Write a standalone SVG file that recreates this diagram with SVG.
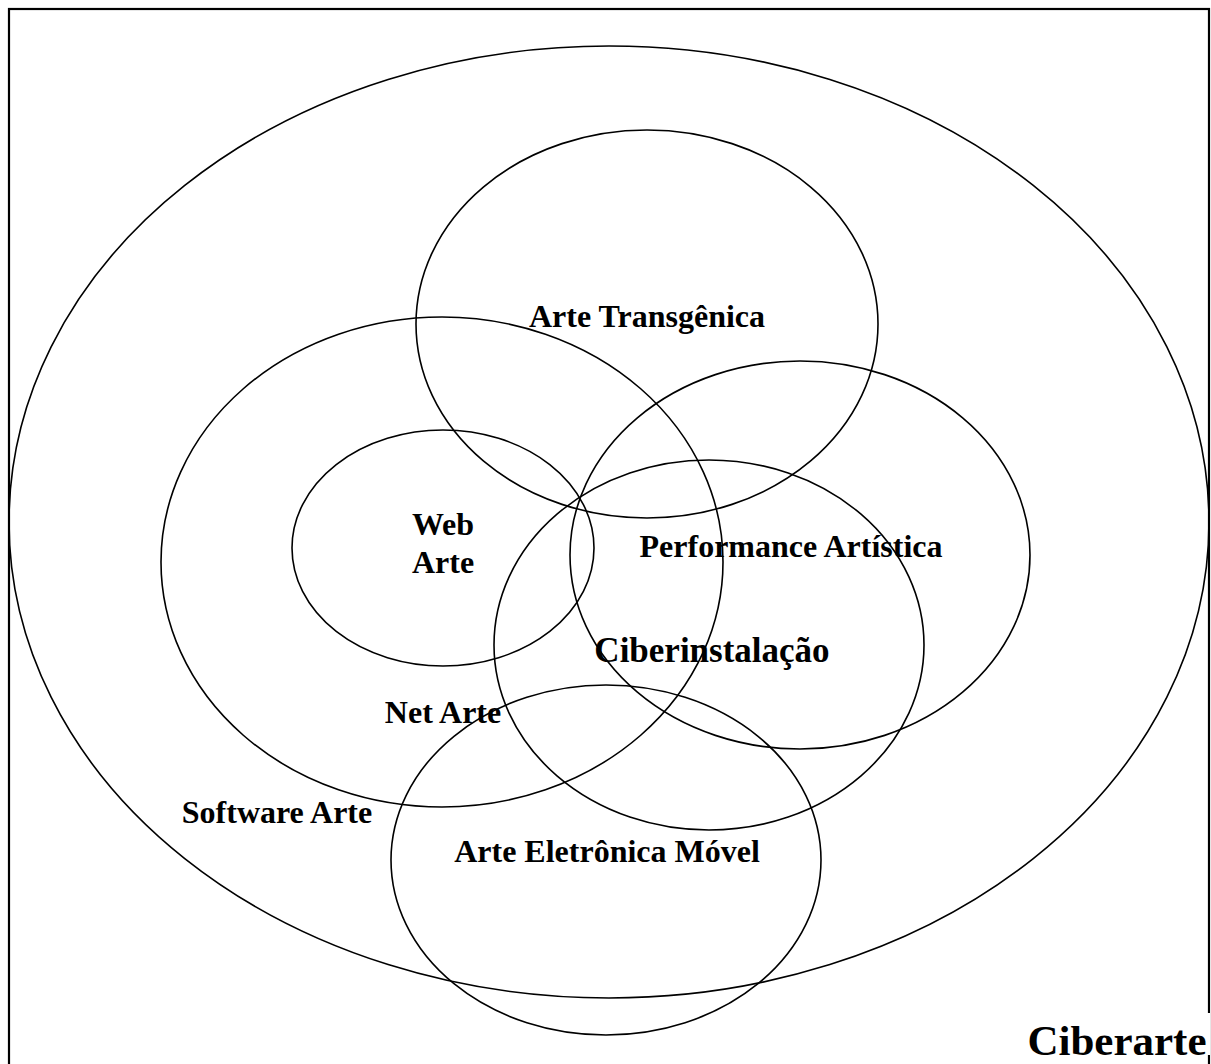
<svg xmlns="http://www.w3.org/2000/svg" width="1211" height="1064" viewBox="0 0 1211 1064">
<style>
.e{fill:none;stroke:#000;stroke-width:1.6}
.t{font-family:"Liberation Serif","Times New Roman",serif;font-weight:bold;font-size:32px;fill:#000}
</style>
<rect x="0" y="0" width="1211" height="1064" fill="#fff"/>
<rect x="9" y="9" width="1200" height="1100" fill="none" stroke="#000" stroke-width="2.2"/>
<g id="ciberarte-set"><ellipse class="e" cx="609" cy="522" rx="600" ry="476"/></g>
<g id="arte-transgenica"><ellipse class="e" cx="647" cy="324" rx="231" ry="194"/><text class="t" x="647" y="327" text-anchor="middle">Arte Transgênica</text></g>
<g id="net-arte"><ellipse class="e" cx="442" cy="562" rx="281" ry="245"/><text class="t" x="443" y="723" text-anchor="middle">Net Arte</text></g>
<g id="web-arte"><ellipse class="e" cx="443" cy="548" rx="151" ry="118"/><text class="t" x="443" y="535" text-anchor="middle">Web</text><text class="t" x="443" y="573" text-anchor="middle">Arte</text></g>
<g id="performance"><ellipse class="e" cx="800" cy="555" rx="230" ry="194"/><text class="t" x="791" y="557" text-anchor="middle">Performance Artística</text></g>
<g id="ciberinstalacao"><ellipse class="e" cx="709" cy="645" rx="215" ry="185"/><text class="t" x="712" y="662" text-anchor="middle" style="font-size:35px">Ciberinstalação</text></g>
<g id="arte-eletronica-movel"><ellipse class="e" cx="606" cy="860" rx="215" ry="175"/><text class="t" x="607" y="862" text-anchor="middle">Arte Eletrônica Móvel</text></g>
<g id="software-arte"><text class="t" x="277" y="823" text-anchor="middle">Software Arte</text></g>
<g id="connectors"></g>
<g id="ciberarte-label"><rect x="1022" y="1013" width="188" height="42" fill="#fff"/><text class="t" x="1117" y="1055" text-anchor="middle" style="font-size:43px">Ciberarte</text></g>
</svg>
